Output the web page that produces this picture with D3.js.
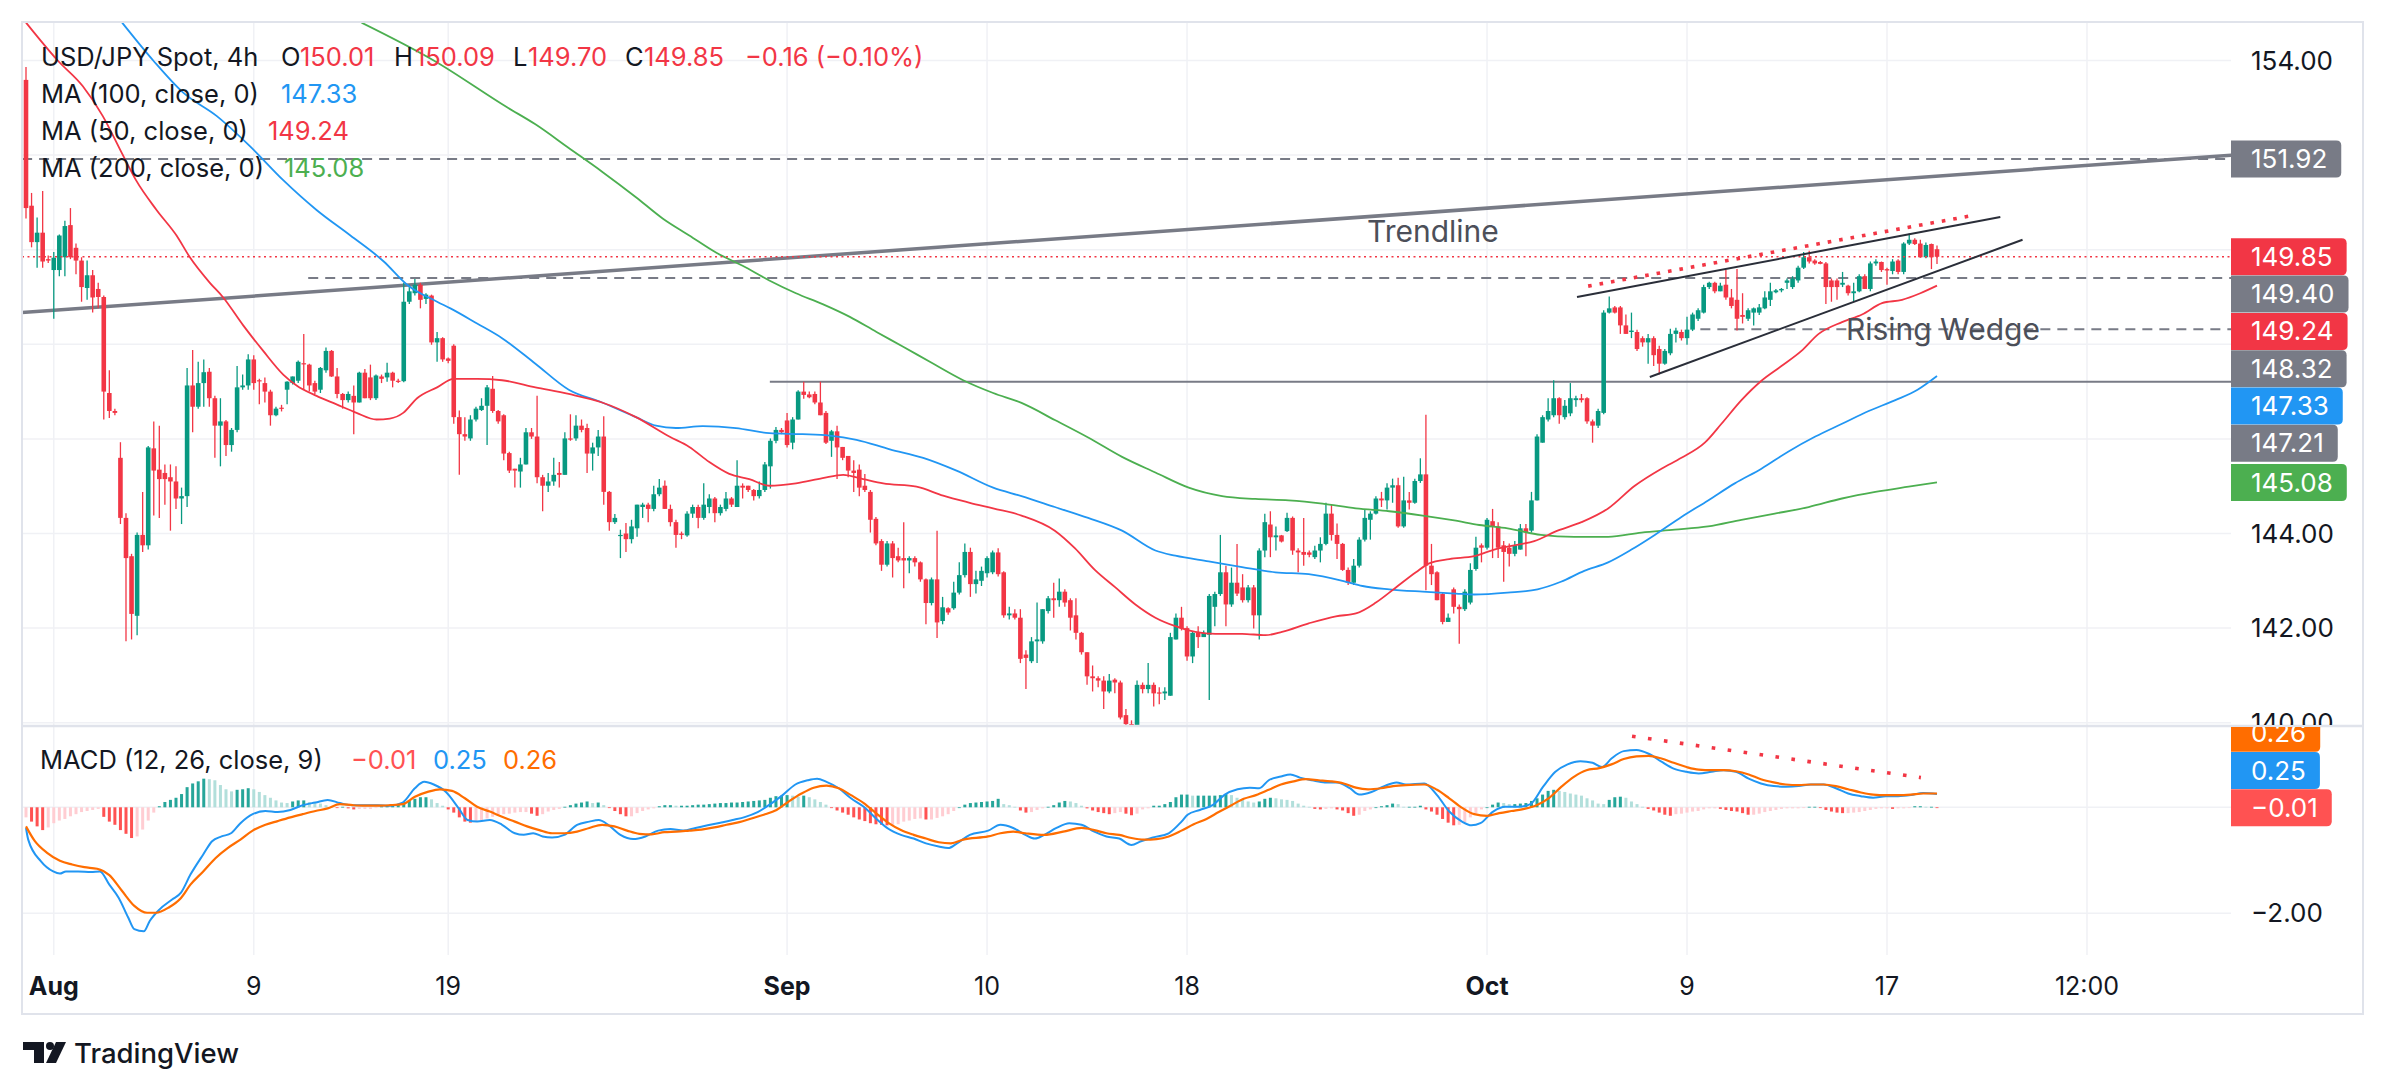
<!DOCTYPE html>
<html><head><meta charset="utf-8">
<script src="https://cdn.jsdelivr.net/npm/d3@7"></script>
<style>html,body{margin:0;padding:0;background:#fff;overflow:hidden}svg{display:block}</style>
</head><body>
<script>
// ---------------- DATA ----------------
// 4h candles [open, high, low, close], Jul 31 → Oct 18
const ohlcJulAug = [
[153.59,153.86,150.66,150.88],[150.93,151.20,150.05,150.16],[150.16,150.68,149.62,150.36],[150.36,151.24,149.62,149.75],[149.80,149.88,149.72,149.77],
[149.57,149.95,148.54,149.83],[149.57,150.32,149.44,150.30],[149.84,150.61,149.44,150.50],[150.52,150.88,149.80,149.84],[150.04,150.13,149.48,149.77],
[149.77,149.84,148.90,149.21],[149.19,149.77,148.94,149.46],[149.46,149.57,148.67,148.99],[149.17,149.30,148.76,149.00],[149.00,149.03,146.41,147.00],
[146.97,147.45,146.44,146.59],[146.59,146.64,146.50,146.55],[145.60,145.93,144.20,144.33],[144.33,144.43,141.72,143.48],[143.52,143.57,141.76,142.30],
[142.26,144.02,141.85,143.97],[143.97,144.88,143.61,143.75],[143.75,145.85,143.66,145.82],[145.80,146.37,144.38,145.33],[145.35,146.28,144.33,145.15],
[145.28,145.46,144.61,145.15],[145.19,145.46,144.06,145.10],[145.10,145.42,144.52,144.74],[144.74,144.97,144.20,144.79],[144.79,147.50,144.56,147.13],
[147.13,147.88,146.14,146.68],[146.68,147.63,146.64,147.18],[147.18,147.68,146.68,147.41],[147.42,147.50,146.68,146.86],[146.86,146.91,145.60,146.28],
[146.28,146.86,145.42,146.37],[146.37,146.40,145.64,145.87],[145.87,146.23,145.73,146.19],[146.19,147.54,146.14,147.09],[147.09,147.36,147.04,147.13],
[147.13,147.79,147.04,147.68],[147.68,147.77,147.04,147.18],[147.24,147.27,146.73,147.22],[147.18,147.30,146.77,147.00],[147.00,147.04,146.28,146.50],
[146.50,146.68,146.48,146.64],[146.66,146.72,146.58,146.64],[147.04,147.22,146.73,147.21],[147.18,147.32,147.15,147.32],[147.23,147.66,147.18,147.63],
[147.60,148.22,147.04,147.58],[147.57,147.59,147.00,147.13],[147.18,147.23,146.95,147.00],[147.04,147.52,146.97,147.50],[147.45,147.93,147.40,147.86],
[147.86,147.88,147.31,147.32],[147.32,147.50,146.86,146.95],[146.95,146.97,146.64,146.82],[146.82,147.00,146.77,146.95],[146.91,147.13,146.10,146.77],
[146.77,147.42,146.77,147.40],[147.40,147.48,146.86,146.86],[147.30,147.57,146.82,146.86],[146.86,147.36,146.82,147.34],[147.32,147.36,147.18,147.27],
[147.30,147.61,147.21,147.40],[147.40,147.42,147.09,147.23],[147.23,147.27,147.18,147.22],[147.22,149.30,147.20,148.90],[148.90,149.26,148.85,149.12],
[149.08,149.38,149.03,149.26],[149.26,149.30,148.76,148.94],[148.96,149.08,148.85,149.05],[149.03,149.05,147.99,148.04],[148.04,148.26,147.63,148.13],
[148.13,148.15,147.63,147.68],[147.70,147.72,147.60,147.65],[147.97,148.00,146.32,146.46],[146.46,146.60,145.24,146.10],[146.10,146.46,145.96,146.05],
[146.01,146.50,145.96,146.41],[146.41,146.68,146.37,146.64],[146.61,146.86,146.59,146.70],[146.70,147.14,145.87,147.09],[147.06,147.33,146.55,146.59],
[146.59,146.61,146.32,146.37],[146.50,146.52,145.55,145.69]
];
const ohlcAugSep = [
[145.70,145.73,145.28,145.33],[145.37,145.37,144.97,145.33],[145.31,145.60,144.97,145.46],[145.46,146.23,145.46,146.14],[146.14,146.23,146.00,146.05],
[146.05,146.91,145.06,145.19],[145.19,145.24,144.47,145.01],[145.01,145.28,144.88,145.10],[145.10,145.60,145.01,145.24],[145.28,145.51,144.97,145.24],
[145.24,146.14,145.24,146.01],[146.01,146.52,145.96,145.99],[146.01,146.50,145.96,146.28],[146.28,146.41,146.14,146.19],[146.23,146.32,145.28,145.69],
[145.69,145.92,145.33,145.82],[145.82,146.19,145.64,146.05],[146.05,146.48,144.61,144.88],[144.88,144.90,144.06,144.24],[144.24,144.41,144.20,144.33],
[143.95,144.08,143.48,143.97],[144.00,144.22,143.61,143.88],[143.88,144.29,143.79,144.15],[144.11,144.61,143.93,144.61],[144.56,144.65,144.33,144.61],
[144.61,144.65,144.24,144.52],[144.52,145.01,144.47,144.83],[144.83,145.15,144.79,144.97],[145.01,145.12,144.52,144.52],[144.52,144.61,144.15,144.24],
[144.24,144.29,143.70,143.97],[144.00,144.04,143.88,143.97],[143.96,144.47,143.93,144.42],[144.42,144.61,144.33,144.56],[144.56,144.61,144.11,144.33],
[144.33,145.06,144.29,144.61],[144.56,144.83,144.43,144.74],[144.74,144.77,144.24,144.43],[144.43,144.61,144.38,144.56],[144.52,144.88,144.47,144.74],
[144.74,144.77,144.56,144.61],[144.56,145.55,144.56,145.01],[145.01,145.06,144.74,144.97],[145.01,145.01,144.88,144.92],[144.92,144.94,144.70,144.79],
[144.79,145.10,144.74,144.92],[144.92,145.51,144.88,145.46],[145.42,146.01,144.95,145.96],[145.96,146.25,145.91,146.19],[146.19,146.23,146.10,146.14],
[146.39,146.55,145.82,145.87],[145.92,146.46,145.78,146.41],[146.41,147.03,146.41,147.00],[147.00,147.21,146.85,146.93],[146.94,147.00,146.86,146.88],
[146.95,147.00,146.73,146.77],[146.77,147.21,146.50,146.50],[146.55,146.59,145.89,145.92],[145.96,146.19,145.62,146.16],[146.16,146.28,145.15,145.82],
[145.83,145.83,145.55,145.60],[145.64,145.64,145.19,145.33],[145.33,145.55,144.88,145.28],[145.35,145.46,144.79,144.97],[145.01,145.26,144.88,144.92],
[144.88,144.92,144.02,144.29],[144.31,144.35,143.75,143.79],[143.84,143.88,143.21,143.34],[143.34,143.84,143.30,143.79],[143.79,143.84,143.07,143.48],
[143.52,143.70,143.39,143.43],[143.48,144.24,142.84,143.43],[143.43,143.52,143.16,143.48],[143.48,143.52,143.30,143.39],[143.39,143.41,142.98,143.03],
[143.03,143.05,142.08,142.53],[142.53,143.07,142.48,143.03],[143.03,144.06,141.79,142.12],[142.15,142.66,142.08,142.44],[142.42,142.44,142.28,142.33],
[142.42,142.98,142.39,142.75],[142.75,143.39,142.71,143.12],[143.12,143.79,143.07,143.61],[143.61,143.70,142.66,142.93],[142.93,143.21,142.73,143.03],
[143.00,143.30,142.89,143.21],[143.16,143.52,143.07,143.48]
];
const ohlcSep = [
[143.18,143.64,143.14,143.60],[143.60,143.69,143.09,143.14],[143.18,143.20,142.22,142.27],[142.27,142.45,142.18,142.31],[142.31,142.40,142.18,142.22],
[142.22,142.40,141.26,141.35],[141.44,141.53,140.71,141.37],[141.30,141.81,141.26,141.72],[141.72,142.54,141.26,141.76],[141.72,142.40,141.67,142.40],
[142.36,142.68,142.31,142.63],[142.63,142.96,142.22,142.59],[142.59,143.05,142.45,142.77],[142.77,142.82,142.45,142.54],[142.59,142.63,141.95,142.22],
[142.27,142.63,141.76,141.90],[141.90,141.92,141.44,141.49],[141.49,141.49,140.80,140.98],[140.98,141.21,140.66,140.94],[140.94,140.98,140.75,140.89],
[140.89,140.98,140.29,140.66],[140.66,141.03,140.62,140.89],[140.91,140.94,140.62,140.85],[140.85,140.89,140.07,140.11],[140.16,140.29,139.70,139.97],
[139.97,140.05,139.58,139.90],[139.95,140.89,139.80,140.80],[140.80,140.85,140.62,140.71],[140.71,141.26,140.62,140.80],[140.80,140.85,140.34,140.62],
[140.64,140.75,140.39,140.62],[140.62,140.75,140.48,140.66],[140.57,141.90,140.57,141.81],[141.76,142.31,141.76,142.22],[142.22,142.45,141.95,142.00],
[142.00,142.04,141.31,141.40],[141.40,141.92,141.26,141.90],[141.90,142.04,141.58,141.81],[141.81,141.95,141.81,141.90],[141.86,142.72,140.48,142.68],
[142.45,142.77,142.04,142.72],[142.72,143.97,142.68,143.18],[143.18,143.32,142.04,142.50],[142.50,143.28,142.45,142.96],[142.96,143.78,142.68,142.73],
[142.86,143.14,142.54,142.59],[142.59,142.91,142.54,142.86],[142.86,142.91,141.99,142.27],[142.27,143.69,141.76,143.64],[143.64,144.42,143.50,144.24],
[144.19,144.47,143.50,143.92],[143.92,144.15,143.64,143.96],[143.96,143.97,143.81,143.83],[144.05,144.44,144.03,144.33],[144.33,144.36,143.55,143.64],
[143.64,143.69,143.18,143.60],[143.61,144.33,143.32,143.55],[143.60,143.64,143.50,143.55],[143.50,143.74,143.46,143.64],[143.64,143.92,143.39,143.78],
[143.78,144.65,143.75,144.42],[144.42,144.61,143.85,143.97],[143.97,144.21,143.46,143.78],[143.78,143.80,143.21,143.23],[143.23,143.28,142.91,142.96],
[142.96,143.46,142.91,143.32],[143.32,143.92,143.28,143.87],[143.87,144.51,143.83,144.33],[144.29,144.47,143.87,144.42],[144.42,144.79,144.40,144.74],
[144.74,144.88,144.56,144.70],[144.70,145.06,144.51,144.97],[144.97,145.16,144.65,145.02],[145.02,145.18,144.12,144.15],[144.15,145.20,144.12,144.70],
[144.70,144.88,144.51,144.65],[144.65,145.16,144.63,145.11],[145.11,145.59,145.07,145.25],[145.25,146.51,142.80,143.32],[143.32,143.78,142.91,143.14],
[143.18,143.20,142.59,142.59],[142.72,142.74,142.08,142.13],[142.13,142.31,142.13,142.22],[142.82,142.86,142.31,142.45],[142.45,142.50,141.67,142.40],
[142.40,142.82,142.36,142.77],[142.54,143.37,142.50,143.23]
];
const ohlcOct = [
[143.25,143.93,143.21,143.70],[143.75,143.79,143.39,143.70],[143.70,144.33,143.66,144.29],[144.26,144.52,143.48,144.15],[144.15,144.24,143.48,143.70],
[143.75,143.84,142.98,143.61],[143.70,143.79,143.30,143.57],[143.57,143.84,143.52,143.75],[143.66,144.20,143.66,144.11],[144.11,144.20,143.52,144.02],
[144.06,144.88,144.02,144.70],[144.70,146.10,144.70,146.05],[145.92,146.50,145.92,146.46],[146.41,146.86,146.37,146.59],[146.50,147.24,146.46,146.86],
[146.86,146.88,146.32,146.50],[146.46,146.82,146.41,146.70],[146.54,147.18,146.48,146.86],[146.82,146.91,146.68,146.86],[146.86,146.95,146.77,146.82],
[146.86,146.88,146.32,146.37],[146.37,146.41,145.92,146.28],[146.28,146.64,146.23,146.59],[146.55,148.72,146.52,148.67],[148.67,149.01,148.65,148.76],
[148.78,148.81,148.65,148.67],[148.78,148.81,148.22,148.40],[148.40,148.63,148.22,148.22],[148.26,148.67,148.13,148.29],[148.26,148.31,147.86,147.90],
[148.13,148.17,147.95,148.04],[148.04,148.22,147.59,148.13],[148.13,148.17,147.54,147.77],[147.90,147.97,147.36,147.59],[147.59,147.90,147.57,147.86],
[147.81,148.33,147.77,148.22],[148.22,148.35,148.04,148.29],[148.26,148.31,148.08,148.13],[148.13,148.58,147.99,148.31],[148.31,148.67,148.28,148.63],
[148.54,148.76,148.49,148.72],[148.67,149.26,148.65,149.21],[149.21,149.32,149.17,149.30],[149.30,149.32,149.08,149.12],[149.12,149.30,149.12,149.24],
[149.26,149.57,148.94,148.99],[148.99,149.17,148.76,148.81],[148.94,149.59,148.29,148.54],[148.62,149.08,148.44,148.58],[148.54,148.76,148.49,148.72],
[148.67,148.78,148.40,148.76],[148.67,148.85,148.62,148.78],[148.76,149.12,148.74,148.99],[148.94,149.30,148.81,149.12],[149.10,149.17,149.08,149.14],
[149.14,149.19,149.10,149.17],[149.30,149.39,149.17,149.35],[149.21,149.44,149.17,149.39],[149.35,149.66,149.30,149.62],[149.62,149.95,149.59,149.84],
[149.84,149.98,149.71,149.75],[149.77,149.80,149.68,149.71],[149.74,149.76,149.69,149.70],[149.71,149.74,148.85,149.21],[149.35,149.39,148.90,149.21],
[149.35,149.39,148.94,149.21],[149.26,149.53,149.21,149.30],[149.24,149.26,149.03,149.08],[149.08,149.30,148.90,149.12],[149.12,149.48,149.10,149.44],
[149.44,149.48,149.17,149.17],[149.17,149.75,149.12,149.71],[149.71,149.80,149.66,149.75],[149.74,149.75,149.53,149.57],[149.59,149.62,149.26,149.56],
[149.55,149.80,149.48,149.75],[149.77,149.80,149.48,149.53],[149.53,150.16,149.48,150.13],[150.13,150.34,150.10,150.21],[150.21,150.24,150.10,150.12],
[150.13,150.21,149.83,149.84],[149.84,150.15,149.82,150.10],[150.12,150.13,149.59,149.84],[150.01,150.09,149.70,149.85]
];

// moving averages [candle index, value]
const ma50 = [[0,154.8],[5.7,154.0],[10.2,153.46],[13.8,152.83],[17.4,152.01],[19.8,151.47],[23.5,150.84],[27.1,150.30],[29.5,149.84],[33.1,149.30],[35.5,148.99],[39.1,148.40],[42.7,147.86],[46.3,147.36],[48.7,147.13],[52.3,146.91],[55.9,146.73],[59.5,146.55],[63.1,146.41],[65.5,146.43],[67.9,146.55],[70.4,146.86],[74.0,147.09],[77.0,147.27],[81.2,147.27],[85.7,147.24],[91.7,147.09],[97.7,146.95],[103.7,146.77],[109.8,146.46],[115.8,146.05],[119.4,145.83],[123.0,145.51],[126.6,145.26],[130.2,145.15],[133.8,145.01],[138.6,145.06],[143.4,145.17],[147.1,145.24],[150.7,145.15],[154.3,145.06],[160.3,144.99],[165.1,144.80],[169.9,144.65],[174.1,144.53],[179.2,144.38],[185.2,144.06],[188.8,143.69],[192.4,143.23],[196.1,142.86],[199.7,142.50],[203.3,142.22],[206.9,142.04],[210.5,141.92],[214.1,141.88],[218.9,141.88],[223.1,141.85],[226.1,141.92],[230.9,142.10],[235.8,142.25],[239.4,142.31],[243.0,142.54],[246.6,142.86],[250.2,143.18],[252.6,143.37],[256.2,143.46],[260.7,143.52],[264.3,143.66],[267.9,143.75],[271.5,143.84],[275.7,144.06],[280.0,144.24],[284.8,144.53],[289.6,145.01],[294.4,145.37],[298.0,145.60],[302.2,145.92],[305.2,146.32],[308.8,146.82],[312.4,147.23],[316.0,147.54],[319.6,147.86],[322.7,148.22],[326.9,148.47],[330.5,148.63],[334.1,148.87],[337.7,148.94],[341.0,149.08],[344,149.24]];
const ma100 = [[17.3,154.8],[22.9,154.0],[28.3,153.32],[34.3,152.83],[40.3,152.19],[46.3,151.47],[52.3,150.84],[58.4,150.30],[64.4,149.75],[68.6,149.26],[74.0,148.90],[76.4,148.76],[81.2,148.44],[85.7,148.13],[91.7,147.59],[97.7,147.04],[103.7,146.77],[109.8,146.46],[113.4,146.28],[117.0,146.23],[121.8,146.27],[127.8,146.23],[133.8,146.12],[139.8,146.10],[144.6,146.07],[149.5,145.98],[155.5,145.78],[161.5,145.60],[167.5,145.33],[174.1,144.97],[179.2,144.79],[185.2,144.56],[191.2,144.33],[197.3,144.06],[203.3,143.64],[206.9,143.53],[212.9,143.41],[218.9,143.29],[224.9,143.18],[230.9,143.14],[237.0,143.00],[240.6,142.89],[245.4,142.82],[251.4,142.77],[257.4,142.73],[260.7,142.71],[266.7,142.75],[272.1,142.82],[276.3,142.98],[280.5,143.21],[284.8,143.39],[289.0,143.66],[293.2,143.97],[298.0,144.35],[302.8,144.70],[307.6,145.06],[312.4,145.37],[317.2,145.73],[322.1,146.05],[326.9,146.32],[331.7,146.59],[336.5,146.82],[340.5,147.04],[344,147.33]];
const ma200 = [[60.4,154.8],[73.4,154.0],[86.6,153.01],[91.7,152.65],[97.7,152.15],[103.7,151.65],[109.8,151.11],[114.6,150.66],[119.4,150.30],[124.2,149.94],[129.0,149.66],[133.8,149.35],[138.6,149.08],[143.4,148.85],[148.3,148.58],[153.1,148.26],[157.9,147.95],[162.7,147.63],[168.7,147.24],[174.1,146.97],[179.2,146.76],[185.2,146.40],[191.2,146.03],[197.3,145.62],[203.3,145.29],[209.3,144.97],[215.3,144.79],[221.3,144.73],[227.3,144.70],[233.4,144.63],[239.4,144.53],[245.4,144.47],[251.4,144.38],[257.4,144.27],[261.6,144.18],[266.7,144.11],[272.7,143.97],[278.7,143.93],[284.8,143.93],[290.8,144.02],[296.8,144.08],[302.8,144.15],[308.8,144.29],[314.8,144.42],[320.9,144.56],[326.9,144.74],[332.9,144.88],[338.9,144.99],[344,145.08]];

// MACD (12,26,9): [candle index, value]
const macdLine = [[0,-0.39],[0.4,-0.61],[2.7,-1.02],[4.9,-1.21],[6.1,-1.25],[7.2,-1.21],[9.4,-1.21],[11.7,-1.22],[13.3,-1.21],[15.0,-1.46],[16.7,-1.71],[18.4,-2.08],[19.5,-2.30],[21.2,-2.34],[22.3,-2.14],[24.0,-1.93],[26.3,-1.74],[27.9,-1.61],[29.6,-1.27],[31.9,-0.89],[33.5,-0.64],[35.2,-0.55],[36.9,-0.49],[38.6,-0.30],[40.8,-0.13],[43.1,-0.07],[45.3,-0.09],[47.6,-0.05],[49.8,0.04],[52.1,0.09],[54.3,0.14],[56.5,0.08],[58.8,0.04],[61.0,0.04],[63.3,0.04],[65.5,0.03],[67.8,0.09],[70.0,0.36],[71.7,0.48],[73.4,0.43],[75.6,0.29],[77.9,-0.02],[79.5,-0.24],[81.2,-0.27],[83.5,-0.24],[85.7,-0.33],[88.0,-0.49],[89.6,-0.52],[91.3,-0.49],[93.0,-0.55],[94.7,-0.57],[96.9,-0.52],[99.2,-0.33],[101.4,-0.27],[103.1,-0.24],[104.8,-0.33],[107.0,-0.52],[109.3,-0.60],[111.5,-0.55],[113.8,-0.44],[116.0,-0.41],[118.3,-0.44],[120.5,-0.39],[122.7,-0.34],[125.0,-0.29],[127.2,-0.24],[129.5,-0.18],[131.7,-0.09],[134.0,0.06],[136.2,0.23],[138.5,0.43],[140.7,0.51],[142.4,0.54],[144.1,0.48],[146.3,0.36],[148.5,0.17],[150.8,0.01],[153.0,-0.21],[155.3,-0.41],[157.5,-0.52],[159.8,-0.59],[162.0,-0.68],[164.3,-0.74],[166.0,-0.77],[167.6,-0.68],[169.9,-0.52],[173.2,-0.44],[175.4,-0.33],[177.7,-0.39],[179.9,-0.52],[181.6,-0.59],[183.3,-0.52],[185.5,-0.39],[187.8,-0.30],[190.0,-0.33],[192.3,-0.46],[194.5,-0.55],[196.8,-0.59],[199.0,-0.71],[200.7,-0.64],[202.9,-0.57],[205.7,-0.49],[208.0,-0.27],[209.1,-0.14],[211.3,-0.05],[213.6,0.04],[215.8,0.24],[218.1,0.34],[220.3,0.37],[222.0,0.36],[223.7,0.51],[225.9,0.58],[227.6,0.62],[229.3,0.56],[231.5,0.51],[233.8,0.47],[236.0,0.47],[238.3,0.36],[240.0,0.24],[242.2,0.29],[244.5,0.40],[246.7,0.47],[248.4,0.43],[251.7,0.45],[254.0,0.23],[256.2,-0.08],[258.5,-0.27],[260.2,-0.34],[261.8,-0.30],[264.1,-0.08],[266.3,0.01],[268.6,0.01],[270.8,0.06],[273.1,0.39],[275.3,0.67],[277.5,0.81],[279.8,0.87],[282.0,0.84],[283.7,0.76],[285.4,0.92],[287.6,1.06],[289.9,1.08],[292.1,1.01],[294.4,0.86],[296.6,0.73],[298.9,0.67],[301.1,0.64],[303.4,0.67],[305.6,0.70],[307.8,0.67],[310.1,0.54],[312.3,0.45],[314.6,0.40],[316.8,0.39],[319.1,0.40],[321.3,0.43],[323.6,0.43],[325.8,0.36],[328.0,0.26],[330.3,0.21],[332.5,0.18],[334.8,0.21],[337.0,0.21],[339.3,0.23],[341.5,0.27],[344,0.25]];
const signalLine = [[0,-0.36],[1.6,-0.64],[3.8,-0.86],[6.1,-1.01],[8.3,-1.08],[10.5,-1.13],[12.8,-1.16],[15.0,-1.28],[17.3,-1.58],[19.5,-1.86],[21.8,-1.99],[23.4,-1.99],[25.7,-1.89],[27.9,-1.71],[29.6,-1.46],[31.9,-1.21],[34.1,-0.96],[36.3,-0.77],[38.6,-0.61],[40.8,-0.44],[43.1,-0.33],[45.3,-0.26],[47.6,-0.19],[49.8,-0.13],[52.1,-0.07],[54.3,-0.02],[56.5,0.06],[58.8,0.04],[61.0,0.03],[63.3,0.03],[65.5,0.04],[67.8,0.06],[70.0,0.20],[72.3,0.29],[74.5,0.34],[76.7,0.31],[79.0,0.17],[81.2,0.01],[83.5,-0.08],[85.7,-0.18],[88.0,-0.27],[90.2,-0.36],[92.4,-0.43],[94.7,-0.49],[96.9,-0.49],[99.2,-0.46],[101.4,-0.39],[103.7,-0.33],[105.9,-0.36],[108.2,-0.44],[110.4,-0.50],[112.6,-0.51],[114.9,-0.47],[117.1,-0.46],[119.4,-0.44],[121.6,-0.42],[123.9,-0.38],[126.1,-0.33],[128.4,-0.28],[130.6,-0.21],[132.8,-0.14],[135.1,-0.05],[137.3,0.11],[139.6,0.26],[141.8,0.37],[144.1,0.41],[146.3,0.36],[148.5,0.23],[150.8,0.08],[153.0,-0.11],[155.3,-0.30],[157.5,-0.43],[159.8,-0.52],[162.0,-0.59],[164.3,-0.66],[166.5,-0.68],[168.7,-0.61],[173.2,-0.55],[175.4,-0.49],[177.7,-0.46],[179.9,-0.49],[183.3,-0.52],[186.7,-0.46],[190.0,-0.39],[192.3,-0.43],[194.5,-0.49],[196.8,-0.52],[199.0,-0.58],[201.3,-0.61],[203.5,-0.60],[205.7,-0.55],[208.0,-0.44],[210.2,-0.32],[212.5,-0.22],[214.7,-0.09],[217.0,0.04],[219.2,0.16],[221.4,0.23],[223.7,0.33],[225.9,0.43],[228.2,0.49],[230.4,0.53],[232.7,0.51],[234.9,0.49],[237.2,0.45],[239.4,0.37],[241.6,0.34],[243.9,0.36],[246.1,0.40],[248.4,0.42],[251.7,0.43],[254.0,0.33],[256.2,0.17],[258.5,-0.01],[260.7,-0.13],[263.0,-0.16],[265.2,-0.11],[267.4,-0.07],[269.7,-0.03],[271.9,0.04],[274.2,0.18],[276.4,0.39],[278.7,0.58],[280.9,0.70],[283.2,0.74],[285.4,0.81],[287.6,0.91],[289.9,0.96],[292.1,0.97],[294.4,0.92],[296.6,0.84],[298.9,0.76],[301.1,0.71],[303.4,0.70],[305.6,0.70],[307.8,0.68],[310.1,0.62],[312.3,0.53],[314.6,0.47],[316.8,0.43],[319.1,0.42],[321.3,0.43],[323.6,0.43],[325.8,0.40],[328.0,0.34],[330.3,0.28],[332.5,0.24],[334.8,0.23],[337.0,0.23],[339.3,0.24],[341.5,0.26],[344,0.26]];
// MACD histogram, one value per candle
const macdHist = [
-0.19,-0.27,-0.36,-0.43,-0.38,-0.30,-0.25,-0.22,-0.17,-0.13,
-0.09,-0.07,-0.05,-0.03,-0.18,-0.27,-0.33,-0.43,-0.50,-0.58,
-0.55,-0.42,-0.25,-0.10,0.02,0.10,0.14,0.18,0.25,0.38,
0.45,0.49,0.54,0.53,0.51,0.42,0.34,0.30,0.33,0.34,
0.36,0.34,0.29,0.23,0.18,0.13,0.09,0.08,0.11,0.13,
0.13,0.10,0.08,0.07,0.04,0.01,-0.01,0.01,-0.02,-0.04,
-0.03,-0.03,-0.03,-0.01,0.02,0.03,0.04,0.06,0.10,0.13,
0.16,0.19,0.19,0.15,0.08,0.03,-0.04,-0.10,-0.19,-0.27,
-0.29,-0.26,-0.24,-0.21,-0.18,-0.15,-0.13,-0.12,-0.10,-0.09,
-0.09,-0.12,-0.16,-0.13,-0.08,-0.05,-0.03,0.01,0.04,0.07,
0.09,0.11,0.08,0.09,0.04,-0.01,-0.07,-0.13,-0.17,-0.17,
-0.11,-0.07,-0.04,-0.02,0.02,0.04,0.04,0.03,0.03,0.03,
0.04,0.05,0.05,0.06,0.07,0.08,0.08,0.09,0.09,0.10,
0.11,0.12,0.13,0.14,0.18,0.21,0.22,0.23,0.22,0.20,
0.22,0.19,0.15,0.10,0.05,-0.01,-0.06,-0.10,-0.14,-0.19,
-0.23,-0.26,-0.30,-0.32,-0.33,-0.34,-0.33,-0.32,-0.27,-0.25,
-0.22,-0.21,-0.23,-0.23,-0.20,-0.17,-0.13,-0.07,0.00,0.05,
0.08,0.09,0.10,0.11,0.12,0.16,0.06,0.04,0.01,-0.06,
-0.10,-0.09,-0.05,-0.02,0.01,0.04,0.09,0.12,0.11,0.08,
0.03,-0.02,-0.06,-0.09,-0.11,-0.13,-0.11,-0.09,-0.12,-0.15,
-0.12,-0.04,-0.02,0.03,0.03,0.06,0.10,0.19,0.24,0.24,
0.22,0.22,0.22,0.22,0.22,0.23,0.25,0.23,0.18,0.15,
0.11,0.09,0.11,0.16,0.18,0.17,0.15,0.14,0.12,0.07,
0.03,0.01,-0.03,-0.04,-0.03,-0.02,-0.04,-0.06,-0.11,-0.16,
-0.14,-0.07,-0.04,0.00,0.02,0.04,0.07,0.06,0.01,0.01,
0.01,0.03,-0.04,-0.08,-0.14,-0.22,-0.29,-0.34,-0.33,-0.28,
-0.19,-0.11,-0.04,0.00,0.05,0.09,0.08,0.06,0.06,0.07,
0.08,0.12,0.17,0.24,0.31,0.33,0.31,0.29,0.26,0.24,
0.22,0.17,0.13,0.07,0.06,0.14,0.19,0.20,0.18,0.11,
0.06,0.01,-0.03,-0.06,-0.10,-0.14,-0.16,-0.13,-0.12,-0.10,
-0.08,-0.07,-0.04,-0.02,-0.02,-0.03,-0.05,-0.07,-0.08,-0.11,
-0.14,-0.14,-0.12,-0.09,-0.07,-0.05,-0.03,-0.02,-0.02,-0.02,
-0.01,0.01,0.01,-0.01,-0.05,-0.08,-0.10,-0.11,-0.11,-0.10,
-0.09,-0.07,-0.05,-0.03,-0.02,-0.02,-0.03,-0.02,-0.02,-0.01,
0.02,0.02,0.01,0.01,-0.01
];

// axis ticks
const timeTicks = [["Aug",5,true],["9",41,false],["19",76,false],["Sep",137,true],["10",173,false],["18",209,false],["Oct",263,true],["9",299,false],["17",335,false],["12:00",371,false]];
const priceTicks = [140,142,144,146,148,150,152,154];
const macdTicks = [-2,0];

// drawings (index, price)
const trendLine = [[-2,148.66],[397,152.0]];
const wedgeUpper = [[279.2,149.0],[355.4,150.69]];
const wedgeLower = [[292.3,147.31],[359.4,150.21]];
const priceDivergence = [[281.2,149.23],[349.8,150.71]];
const macdDivergence = [[289.1,1.34],[341.1,0.56]];
const levels = [[151.92,-0.7,"dash"],[149.40,50.8,"dash"],[148.32,301.4,"dash"],[147.21,133.9,"solid"]];
const lastPrice = 149.85;
const changeText = "\u22120.16 (\u22120.10%)";

// ---------------- CHART ----------------
const FONT = 'Inter, "Noto Sans", Roboto, sans-serif';
const UP = "#089981", DOWN = "#f23645", GRID = "#f0f1f5", TXT = "#131722", GRAY = "#787b86";
const C50 = "#f23645", C100 = "#2196f3", C200 = "#4caf50", CMACD = "#2196f3", CSIG = "#ff6d00";
const fmt = d3.format(".2f");
const LEG = 25.5, AX = 26;

const L = 22, R = 2231, PT = 22, PB = 725, MT = 727, MB = 955;
const x = d3.scaleLinear().domain([0, 344]).range([26, 1937]);
const y = d3.scaleLinear().domain([140, 154]).range([722.7, 60.5]);
const ym = d3.scaleLinear().domain([-2, 0]).range([913.3, 807.3]);

const svg = d3.select("body").append("svg").attr("width", 2385).attr("height", 1092)
  .style("font-family", FONT);
const defs = svg.append("defs");
const clip = (id, xx, yy, w, h) => defs.append("clipPath").attr("id", id).append("rect").attr("x", xx).attr("y", yy).attr("width", w).attr("height", h);
clip("cP", L, PT, R - L, PB - PT);
clip("cM", L, MT, R - L, MB - MT);
clip("cPA", R, PT, 140, PB - PT);
clip("cMA", R, MT, 140, MB - MT);

// grid
const grid = svg.append("g");
grid.selectAll("line.gx").data(timeTicks).join("line")
  .attr("x1", d => x(d[1])).attr("x2", d => x(d[1])).attr("y1", PT).attr("y2", MB)
  .attr("stroke", GRID).attr("stroke-width", 1.5);
grid.selectAll("line.gp").data(priceTicks).join("line")
  .attr("x1", L).attr("x2", R).attr("y1", d => y(d)).attr("y2", d => y(d))
  .attr("stroke", GRID).attr("stroke-width", 1.5);
grid.selectAll("line.gm").data(macdTicks).join("line")
  .attr("x1", L).attr("x2", R).attr("y1", d => ym(d)).attr("y2", d => ym(d))
  .attr("stroke", GRID).attr("stroke-width", 1.5);

// ---- price pane
const pp = svg.append("g").attr("clip-path", "url(#cP)");
const lineP = d3.line().x(d => x(d[0])).y(d => y(d[1]));
const curveP = d3.line().x(d => x(d[0])).y(d => y(d[1])).curve(d3.curveMonotoneX);

levels.forEach(lv => {
  pp.append("line").attr("x1", x(lv[1])).attr("x2", R).attr("y1", y(lv[0])).attr("y2", y(lv[0]))
    .attr("stroke", GRAY).attr("stroke-width", 2)
    .attr("stroke-dasharray", lv[2] === "dash" ? "10 7" : null);
});
pp.append("path").attr("d", lineP(trendLine)).attr("stroke", GRAY).attr("stroke-width", 3.5).attr("fill", "none");

const candles = [].concat(ohlcJulAug, ohlcAugSep, ohlcSep, ohlcOct).map((d, i) => ({ i, o: d[0], h: d[1], l: d[2], c: d[3] }));
const col = d => d.c >= d.o ? UP : DOWN;
pp.append("g").selectAll("line").data(candles).join("line")
  .attr("x1", d => x(d.i)).attr("x2", d => x(d.i)).attr("y1", d => y(d.h)).attr("y2", d => y(d.l))
  .attr("stroke", col).attr("stroke-width", 1.3);
pp.append("g").selectAll("rect").data(candles).join("rect")
  .attr("x", d => x(d.i) - 2.3).attr("width", 4.6)
  .attr("y", d => y(Math.max(d.o, d.c))).attr("height", d => Math.max(1.2, Math.abs(y(d.o) - y(d.c))))
  .attr("fill", col);

[[ma200, C200], [ma100, C100], [ma50, C50]].forEach(m => {
  pp.append("path").attr("d", curveP(m[0])).attr("fill", "none").attr("stroke", m[1]).attr("stroke-width", 1.8);
});

pp.append("line").attr("x1", L).attr("x2", R).attr("y1", y(lastPrice)).attr("y2", y(lastPrice))
  .attr("stroke", DOWN).attr("stroke-width", 1.5).attr("stroke-dasharray", "2 3.5");

pp.append("path").attr("d", lineP(wedgeUpper)).attr("stroke", "#2a2e39").attr("stroke-width", 2).attr("fill", "none");
pp.append("path").attr("d", lineP(wedgeLower)).attr("stroke", "#2a2e39").attr("stroke-width", 2).attr("fill", "none");
pp.append("path").attr("d", lineP(priceDivergence)).attr("stroke", DOWN).attr("stroke-width", 3.6).attr("stroke-dasharray", "3.6 8").attr("fill", "none");

pp.append("text").attr("x", x(241.4)).attr("y", y(150.16)).text("Trendline")
  .attr("font-size", 30).attr("fill", "#4c4f59");
pp.append("text").attr("x", x(327.6)).attr("y", y(148.09)).text("Rising Wedge")
  .attr("font-size", 30).attr("fill", "#4c4f59");

// ---- MACD pane
const mp = svg.append("g").attr("clip-path", "url(#cM)");
const histCol = (v, i) => {
  const p = i > 0 ? macdHist[i - 1] : v;
  if (v >= 0) return v >= p ? "#26a69a" : "#b2dfdb";
  return v < p ? "#ff5252" : "#ffcdd2";
};
mp.append("g").selectAll("rect").data(macdHist).join("rect")
  .attr("x", (v, i) => x(i) - 1.5).attr("width", 3)
  .attr("y", v => Math.min(ym(0), ym(v))).attr("height", v => Math.max(0.8, Math.abs(ym(v) - ym(0))))
  .attr("fill", histCol);
const lineM = d3.line().x(d => x(d[0])).y(d => ym(d[1])).curve(d3.curveMonotoneX);
mp.append("path").attr("d", lineM(macdLine)).attr("fill", "none").attr("stroke", CMACD).attr("stroke-width", 2);
mp.append("path").attr("d", lineM(signalLine)).attr("fill", "none").attr("stroke", CSIG).attr("stroke-width", 2.2);
mp.append("path").attr("d", d3.line().x(d => x(d[0])).y(d => ym(d[1]))(macdDivergence))
  .attr("stroke", DOWN).attr("stroke-width", 3.6).attr("stroke-dasharray", "3.6 12.5").attr("fill", "none");

// ---- borders
svg.append("rect").attr("x", L).attr("y", PT).attr("width", 2363 - L).attr("height", 1014 - PT)
  .attr("fill", "none").attr("stroke", "#e0e3eb").attr("stroke-width", 2);
svg.append("line").attr("x1", L).attr("x2", 2363).attr("y1", 726).attr("y2", 726).attr("stroke", "#e0e3eb").attr("stroke-width", 2.5);

// ---- legends
function legendRow(items, yy) {
  items.forEach(it => svg.append("text").attr("x", it[1]).attr("y", yy).attr("dy", "0.35em")
    .attr("font-size", LEG).attr("fill", it[2]).text(it[0]));
}
const last = candles[candles.length - 1];
legendRow([["USD/JPY Spot, 4h", 41, TXT], ["O", 281, TXT], [fmt(last.o), 300, DOWN], ["H", 394, TXT], [fmt(last.h), 415, DOWN],
  ["L", 513, TXT], [fmt(last.l), 528, DOWN], ["C", 625, TXT], [fmt(last.c), 644, DOWN], [changeText, 745, DOWN]], 57);
legendRow([["MA (100, close, 0)", 41, TXT], [fmt(ma100[ma100.length - 1][1]), 281, C100]], 94);
legendRow([["MA (50, close, 0)", 41, TXT], [fmt(ma50[ma50.length - 1][1]), 268, C50]], 131);
legendRow([["MA (200, close, 0)", 41, TXT], [fmt(ma200[ma200.length - 1][1]), 284, C200]], 168);
legendRow([["MACD (12, 26, close, 9)", 40, TXT], [fmt(macdHist[macdHist.length - 1]), 351, "#ff5252"],
  [fmt(macdLine[macdLine.length - 1][1]), 433, CMACD], [fmt(signalLine[signalLine.length - 1][1]), 503, CSIG]], 760);

// ---- axis labels
const pLabels = [
  [151.92, GRAY], [lastPrice, DOWN], [149.40, GRAY], [ma50[ma50.length - 1][1], C50], [148.32, GRAY],
  [ma100[ma100.length - 1][1], C100], [147.21, GRAY], [ma200[ma200.length - 1][1], C200]
].map(d => ({ v: d[0], c: d[1], yy: y(d[0]) })).sort((a, b) => a.yy - b.yy);
const LH = 37.3;
for (let k = 1; k < pLabels.length; k++) if (pLabels[k].yy < pLabels[k - 1].yy + LH) pLabels[k].yy = pLabels[k - 1].yy + LH;
const mLabels = [
  [macdHist[macdHist.length - 1], "#ff5252"], [macdLine[macdLine.length - 1][1], CMACD], [signalLine[signalLine.length - 1][1], CSIG]
].map(d => ({ v: d[0], c: d[1], yy: ym(d[0]) })).sort((a, b) => b.yy - a.yy);
for (let k = 1; k < mLabels.length; k++) if (mLabels[k].yy > mLabels[k - 1].yy - LH) mLabels[k].yy = mLabels[k - 1].yy - LH;

const pa = svg.append("g").attr("clip-path", "url(#cPA)");
const ma = svg.append("g").attr("clip-path", "url(#cMA)");
priceTicks.forEach(t => {
  const yy = y(t);
  if (pLabels.some(l => Math.abs(l.yy - yy) < 30)) return;
  pa.append("text").attr("x", 2251).attr("y", yy).attr("dy", "0.35em").attr("font-size", AX).attr("fill", TXT).text(fmt(t));
});
macdTicks.forEach(t => {
  const yy = ym(t);
  if (mLabels.some(l => Math.abs(l.yy - yy) < 30)) return;
  ma.append("text").attr("x", 2251).attr("y", yy).attr("dy", "0.35em").attr("font-size", AX).attr("fill", TXT).text(fmt(t));
});
function drawLabels(g, labs) {
  labs.forEach(l => {
    const t = g.append("text").attr("x", 2251).attr("y", l.yy).attr("dy", "0.35em").attr("font-size", AX).attr("fill", "#fff").text(fmt(l.v));
    const w = t.node().getComputedTextLength();
    const x0 = R, x1 = 2251 + w + 14, y0 = l.yy - 18.5, y1 = l.yy + 18.5, r = 5;
    g.insert("path", "text").attr("fill", l.c)
      .attr("d", `M${x0},${y0}H${x1 - r}Q${x1},${y0} ${x1},${y0 + r}V${y1 - r}Q${x1},${y1} ${x1 - r},${y1}H${x0}Z`);
  });
}
drawLabels(pa, pLabels);
drawLabels(ma, mLabels);

// ---- time axis
svg.append("g").selectAll("text").data(timeTicks).join("text")
  .attr("x", d => x(d[1])).attr("y", 986).attr("dy", "0.35em").attr("text-anchor", "middle")
  .attr("font-size", 25).attr("font-weight", d => d[2] ? 700 : 400).attr("fill", TXT).text(d => d[0]);

// ---- TradingView logo
const logo = svg.append("g").attr("fill", TXT);
logo.append("path").attr("d", "M23,1042H44V1063H34V1050H23Z");
logo.append("circle").attr("cx", 50).attr("cy", 1046).attr("r", 4);
logo.append("path").attr("d", "M56,1042H66L56,1063H46Z");
logo.append("text").attr("x", 74).attr("y", 1053).attr("dy", "0.35em").attr("font-size", 27.5).attr("font-weight", 500).text("TradingView");
</script>
</body></html>
